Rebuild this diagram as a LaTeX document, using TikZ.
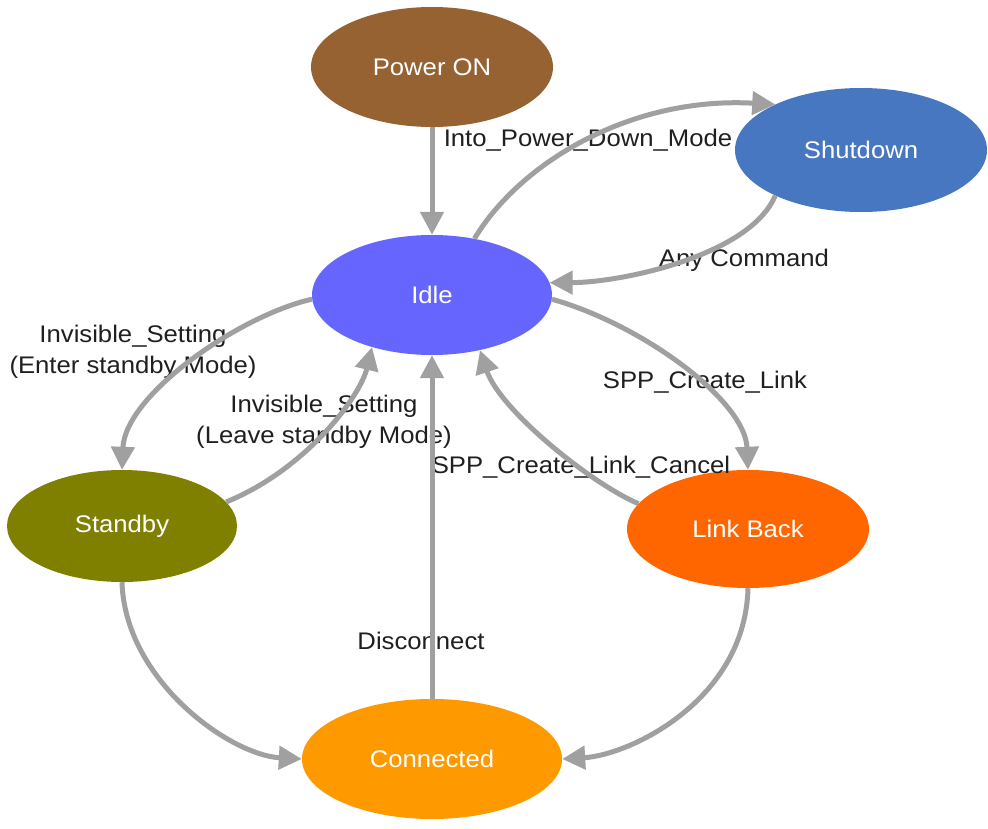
\documentclass[tikz,border=0pt]{standalone}
\usepackage{fontspec}
\setmainfont{Liberation Sans}[FakeStretch=1.07]
\usetikzlibrary{shapes.geometric,arrows.meta}
\definecolor{cpower}{HTML}{966232}
\definecolor{cshut}{HTML}{4677C0}
\definecolor{cidle}{HTML}{6666FF}
\definecolor{cstand}{HTML}{808000}
\definecolor{clink}{HTML}{FF6600}
\definecolor{cconn}{HTML}{FF9900}
\definecolor{carrow}{HTML}{A0A0A0}
\definecolor{clabel}{HTML}{1F1F1F}
\begin{document}
\begin{tikzpicture}[x=1pt,y=-1pt,
  state/.style={ellipse, draw=none, inner sep=0pt, text=white,
    font=\fontsize{24}{29}\selectfont},
  lbl/.style={text=clabel, align=center, inner sep=0pt,
    font=\fontsize{24}{31}\selectfont},
  conn/.style={draw=carrow, line width=5pt,
    -{Triangle[length=23pt,width=23pt]}}]
\useasboundingbox (0,0) rectangle (988,829);
% states
\node[state, fill=cpower, minimum width=242pt, minimum height=120pt] (pon) at (432,67) {Power ON};
\node[state, fill=cshut, minimum width=252pt, minimum height=124pt] (shut) at (861,150) {Shutdown};
\node[state, fill=cidle, minimum width=240pt, minimum height=120pt] (idle) at (432,295) {Idle};
\node[state, fill=cstand, minimum width=230pt, minimum height=112pt] (stand) at (122,526) {Standby};
\node[state, fill=clink, minimum width=242pt, minimum height=118pt] (link) at (748,529) {Link Back};
\node[state, fill=cconn, minimum width=260pt, minimum height=120pt] (conn) at (432,759) {Connected};
% labels
\node[lbl] (l1) at (588,140) {Into\_Power\_Down\_Mode};
\node[lbl] (l2) at (744,260) {Any Command};
\node[lbl] (l3) at (133,352) {Invisible\_Setting\\(Enter standby Mode)};
\node[lbl] (l4) at (324,422) {Invisible\_Setting\\(Leave standby Mode)};
\node[lbl] (l5) at (705,382) {SPP\_Create\_Link};
\node[lbl] (l6) at (581,467) {SPP\_Create\_Link\_Cancel};
\node[lbl] (l7) at (421,641) {Disconnect};
% transitions
\draw[conn] (pon.south) -- (idle.north);
\draw[conn] (idle.53) .. controls +(45,-75) and +(-146,-8) .. (shut.152);
\draw[conn] (shut.208) .. controls +(-25,60) and +(71,0) .. (idle.6);
\draw[conn] (idle.182) .. controls +(-72,16) and +(3,-75) .. (stand.90);
\draw[conn] (stand.13) .. controls +(79,-32) and +(-12,50) .. (idle.221);
\draw[conn] (idle.-2) .. controls +(89,25) and +(-3,-70) .. (link.north);
\draw[conn] (link.167) .. controls +(-47,-20) and +(20,60) .. (idle.311);
\draw[conn] (conn.north) -- (idle.south);
\draw[conn] (stand.south) .. controls +(3,98) and +(-72,-4) .. (conn.west);
\draw[conn] (link.south) .. controls +(-3,112) and +(68,-4) .. (conn.east);
\end{tikzpicture}
\end{document}
